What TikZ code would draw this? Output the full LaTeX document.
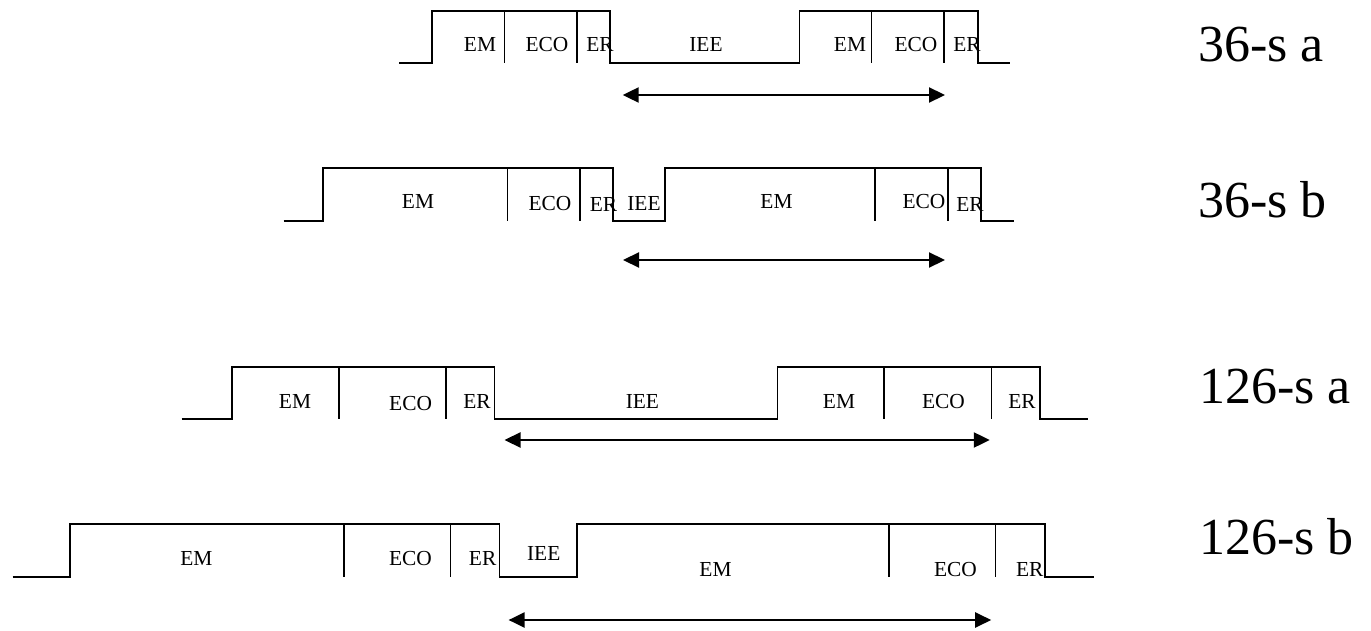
\documentclass[tikz,border=0pt]{standalone}
\usepackage{fontspec}
\setmainfont{Liberation Serif}
\usetikzlibrary{arrows.meta}
\tikzset{
  wave/.style={line width=0.9pt, line join=miter},
  divider/.style={line width=0.8pt},
  lbl/.style={inner sep=0pt, anchor=base, font=\fontsize{10.7}{12}\selectfont},
  rowname/.style={inner sep=0pt, anchor=base west, font=\fontsize{26}{30}\selectfont},
  span/.style={line width=1.1pt, {Triangle[length=8pt,width=7.5pt]}-{Triangle[length=8pt,width=7.5pt]}}
}
\begin{document}
\begin{tikzpicture}[x=0.5pt,y=-0.5pt]
\useasboundingbox (0,0) rectangle (1371,631);
% ---------- Row 1: 36-s a ----------
\draw[wave] (399,63.3) -- (432,63.3) -- (432,11) -- (609.6,11) -- (609.6,63.3) -- (799.4,63.3) -- (799.4,11) -- (977.8,11) -- (977.8,63.3) -- (1010.4,63.3);
\foreach \x in {504.3,577,871.6,943.9} \draw[divider] (\x,11) -- (\x,63.3);
\node[lbl] (a1) at (480,52) {EM};
\node[lbl] (a2) at (547,52) {ECO};
\node[lbl] (a3) at (600,52) {ER};
\node[lbl] (a4) at (706,52) {IEE};
\node[lbl] (a5) at (850,52) {EM};
\node[lbl] (a6) at (916,52) {ECO};
\node[lbl] (a7) at (967,52) {ER};
\coordinate (a8) at (622.7,95);
\coordinate (a9) at (945,95);
\draw[span] (a8) -- (a9);
\node[rowname] (n1) at (1198,62) {36-s a};
% ---------- Row 2: 36-s b ----------
\draw[wave] (283.6,220.7) -- (323.3,220.7) -- (323.3,167.7) -- (613.2,167.7) -- (613.2,220.7) -- (665,220.7) -- (665,167.7) -- (980.6,167.7) -- (980.6,220.7) -- (1014,220.7);
\foreach \x in {507.5,580.2,875,947.7} \draw[divider] (\x,167.7) -- (\x,220.7);
\node[lbl] (b1) at (418,208) {EM};
\node[lbl] (b2) at (550,211) {ECO};
\node[lbl] (b3) at (603.5,212) {ER};
\node[lbl] (b4) at (644,211) {IEE};
\node[lbl] (b5) at (776.5,208) {EM};
\node[lbl] (b6) at (924,208) {ECO};
\node[lbl] (b7) at (970,212) {ER};
\coordinate (b8) at (623,260);
\coordinate (b9) at (945,260);
\draw[span] (b8) -- (b9);
\node[rowname] (n2) at (1198,217) {36-s b};
% ---------- Row 3: 126-s a ----------
\draw[wave] (181.7,419.3) -- (231.6,419.3) -- (231.6,366.7) -- (494.5,366.7) -- (494.5,419.3) -- (777.4,419.3) -- (777.4,366.7) -- (1040.3,366.7) -- (1040.3,419.3) -- (1088.4,419.3);
\foreach \x in {339,445.8,884.2,991.6} \draw[divider] (\x,366.7) -- (\x,419.3);
\node[lbl] (c1) at (295,408) {EM};
\node[lbl] (c2) at (410.6,410) {ECO};
\node[lbl] (c3) at (477,408) {ER};
\node[lbl] (c4) at (642.4,408) {IEE};
\node[lbl] (c5) at (839,408) {EM};
\node[lbl] (c6) at (943.5,408) {ECO};
\node[lbl] (c7) at (1022,408) {ER};
\coordinate (c8) at (504.5,440);
\coordinate (c9) at (989.8,440);
\draw[span] (c8) -- (c9);
\node[rowname] (n3) at (1199,403) {126-s a};
% ---------- Row 4: 126-s b ----------
\draw[wave] (12.6,577.3) -- (70.2,577.3) -- (70.2,524.3) -- (499.5,524.3) -- (499.5,577.3) -- (576.6,577.3) -- (576.6,524.3) -- (1045.3,524.3) -- (1045.3,577.3) -- (1094.3,577.3);
\foreach \x in {343.7,450.4,888.8,995.4} \draw[divider] (\x,524.3) -- (\x,577.3);
\node[lbl] (d1) at (196.4,565.3) {EM};
\node[lbl] (d2) at (410.4,565.3) {ECO};
\node[lbl] (d3) at (482.6,565.3) {ER};
\node[lbl] (d4) at (543.7,560.3) {IEE};
\node[lbl] (d5) at (715.5,576) {EM};
\node[lbl] (d6) at (955.4,576) {ECO};
\node[lbl] (d7) at (1029.8,576) {ER};
\coordinate (d8) at (508.6,620);
\coordinate (d9) at (991.2,620);
\draw[span] (d8) -- (d9);
\node[rowname] (n4) at (1199,554) {126-s b};
\end{tikzpicture}
\end{document}
